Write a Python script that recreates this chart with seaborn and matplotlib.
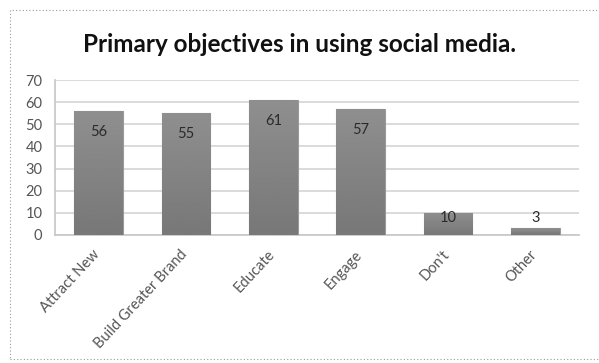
import matplotlib
matplotlib.use("Agg")
import matplotlib.pyplot as plt
import matplotlib.transforms as mtransforms
import seaborn as sns
import pandas as pd
import numpy as np
from matplotlib.patches import Rectangle

categories = ["Attract New", "Build Greater Brand", "Educate", "Engage", "Don't", "Other"]
values = [56, 55, 61, 57, 10, 3]
yticks = [0, 10, 20, 30, 40, 50, 60, 70]
title = "Primary objectives in using social media."

sns.set_theme(style="white")
plt.rcParams['font.family'] = ['Lato', 'DejaVu Sans']

df = pd.DataFrame({"cat": categories, "val": values})

fig = plt.figure(figsize=(5.99, 3.63), dpi=100)
ax = fig.add_axes([55/599, 1 - 235/363, (579-55)/599, (235-80)/363])

sns.barplot(data=df, x="cat", y="val", ax=ax, color="#868686", width=0.56,
            saturation=1, edgecolor="#9a9a9a", linewidth=0.8, zorder=3)

# subtle vertical gradient on bars
for p in ax.patches:
    x0, y0 = p.get_x(), p.get_y()
    w, h = p.get_width(), p.get_height()
    grad = np.linspace(0.56, 0.47, 50).reshape(-1, 1)
    im = ax.imshow(grad, extent=[x0, x0 + w, y0, y0 + h], origin="upper",
                   cmap="gray", vmin=0, vmax=1, aspect="auto", zorder=3.5)
    im.set_clip_path(p)

ax.set_xlim(-0.5, len(categories) - 0.5)
ax.set_ylim(0, 70)
ax.set_yticks(yticks)
ax.yaxis.grid(True, color="#d4d4d4", linewidth=1.2, zorder=0)
ax.set_axisbelow(True)
for s in ["top", "right"]:
    ax.spines[s].set_visible(False)
ax.spines["left"].set_color("#c8c8c8")
ax.spines["bottom"].set_color("#c8c8c8")
ax.set_xlabel("")
ax.set_ylabel("")
ax.tick_params(axis="y", labelsize=10.5, colors="#555555", length=0, pad=9)
ax.tick_params(axis="x", labelsize=10.5, colors="#555555", length=0, pad=9)
shift = mtransforms.ScaledTranslation(-6/100, 0, fig.dpi_scale_trans)
for lab in ax.get_xticklabels():
    lab.set_rotation(47)
    lab.set_ha("right")
    lab.set_rotation_mode("anchor")
    lab.set_transform(lab.get_transform() + shift)

for i, v in enumerate(values):
    ax.text(i, max(v - 9.5, 7.7), str(v), ha="center", va="center",
            fontsize=10.5, color="#2a2a2a", zorder=5)

fig.text(0.5, 1 - 45/363, title, ha="center", va="center",
         fontsize=17.5, fontweight="bold", color="#111111")

fig.patches.append(Rectangle((10/599, 4/363), 1 - 10/599 + 0.01, 1 - 14/363,
                             transform=fig.transFigure, fill=False,
                             edgecolor="#999999", linestyle=(0, (1, 2)), linewidth=0.8))

fig.savefig("out.png", dpi=100, facecolor="white")
